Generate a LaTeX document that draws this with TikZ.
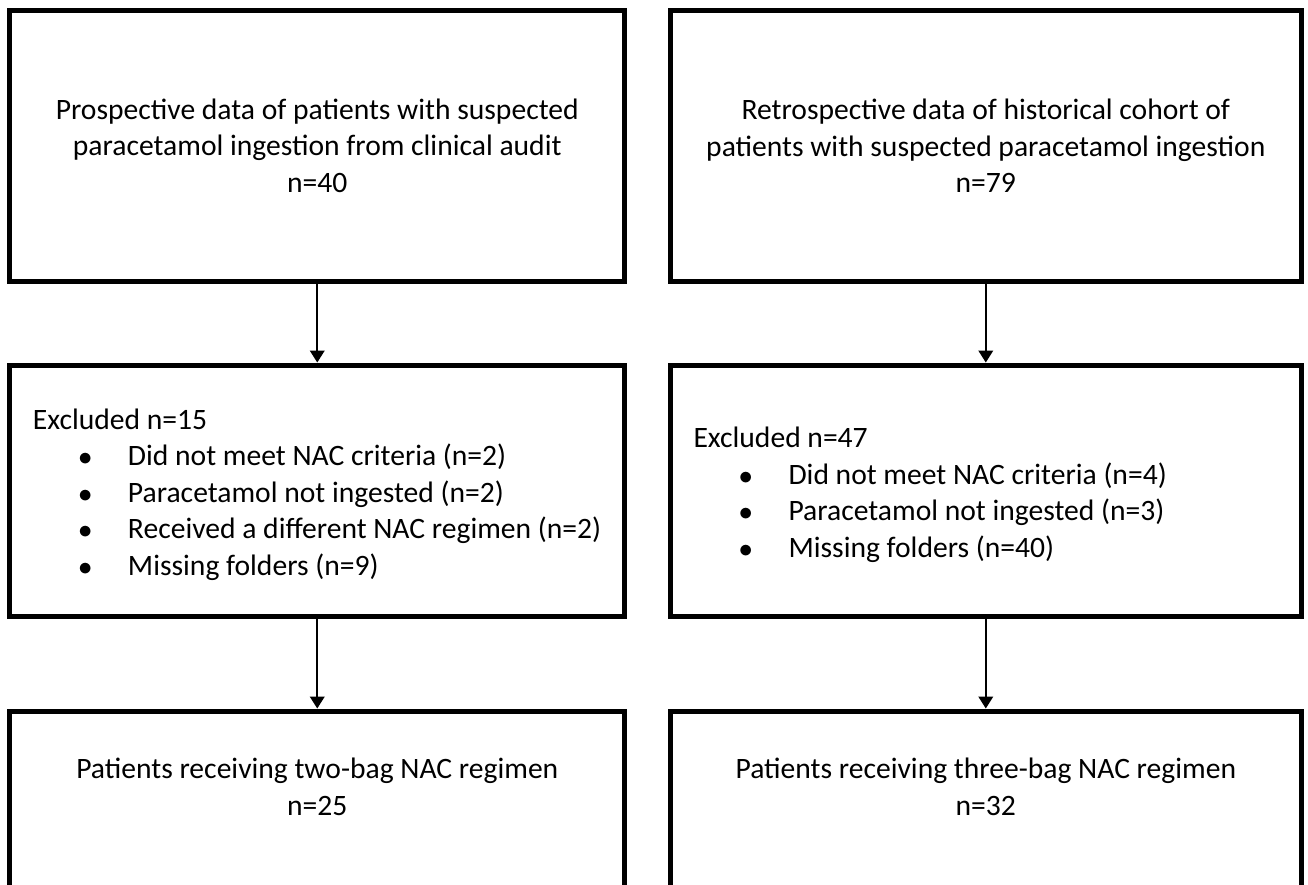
\documentclass[tikz,border=0pt]{standalone}
\usepackage{fontspec}
\setmainfont{Carlito}
\usetikzlibrary{positioning,arrows.meta}
\newcommand{\bul}[1]{\hspace*{34pt}\makebox[37.25pt][l]{$\bullet$}#1}
\begin{document}
\begin{tikzpicture}[x=0.75pt,y=-0.75pt,
  box/.style={draw, rectangle, line width=3.75pt, inner xsep=17.25pt, align=center,
    font=\fontsize{22.2pt}{27.4pt}\selectfont},
  topbox/.style={box, minimum width=460.9pt, minimum height=203.6pt},
  midbox/.style={box, minimum height=188.25pt, text width=426.4pt, align=flush left, text height=21.5pt},
  endbox/.style={box, inner ysep=35.25pt, text depth=220pt},
  arr/.style={-{Triangle[width=11pt,length=9pt]}, line width=1.3pt}]
  \useasboundingbox (0,0) rectangle (1308,884);
  \clip (0,0) rectangle (1308,884);
  \node[topbox] (p0) at (317.25,145.75) {Prospective data of patients with suspected\\paracetamol ingestion from clinical audit\\n=40};
  \node[topbox, minimum width=472.9pt] (r0) [right=30.75pt of p0] {Retrospective data of historical cohort of\\patients with suspected paracetamol ingestion\\n=79};
  \node[midbox] (p1) [below=58.9pt of p0] {Excluded n=15\\
    \bul{Did not meet NAC criteria (n=2)}\\
    \bul{Paracetamol not ingested (n=2)}\\
    \bul{Received a different NAC regimen (n=2)}\\
    \bul{Missing folders (n=9)}};
  \node[midbox, text width=438.4pt] (r1) [below=58.9pt of r0] {Excluded n=47\\
    \bul{Did not meet NAC criteria (n=4)}\\
    \bul{Paracetamol not ingested (n=3)}\\
    \bul{Missing folders (n=40)}};
  \node[endbox, minimum width=460.9pt] (p2) [below=67.5pt of p1] {Patients receiving two-bag NAC regimen\\n=25};
  \node[endbox, minimum width=472.9pt] (r2) [below=67.5pt of r1] {Patients receiving three-bag NAC regimen\\n=32};
  \draw[arr] (p0) -- (p1);
  \draw[arr] (r0) -- (r1);
  \draw[arr] (p1) -- (p2);
  \draw[arr] (r1) -- (r2);
\end{tikzpicture}
\end{document}
